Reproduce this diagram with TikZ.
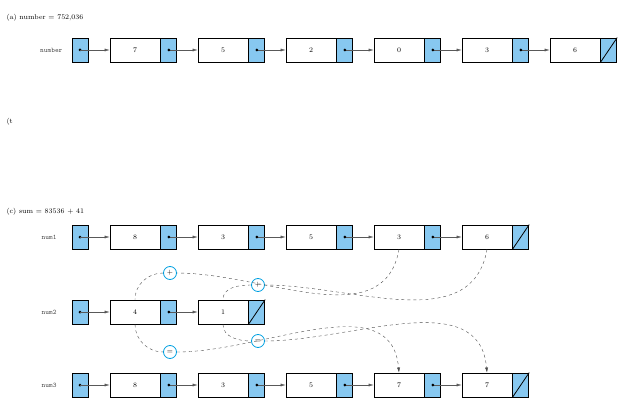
\documentclass[tikz,border=0pt]{standalone}
\usepackage{tikz}
\usetikzlibrary{arrows.meta, positioning}
\definecolor{ptrblue}{RGB}{135,200,240}
\definecolor{opcyan}{RGB}{0,160,225}
\tikzset{
  databox/.style={draw, thick, minimum width=50pt, minimum height=24pt, inner sep=0pt, font=\scriptsize},
  ptrbox/.style={draw, thick, fill=ptrblue, minimum width=16pt, minimum height=24pt, inner sep=0pt},
  link/.style={-{Latex[length=5pt,width=3pt]}, gray!70!black},
  carry/.style={dashed, gray!60!black},
  opcirc/.style={circle, draw=opcyan, thick, fill=white, minimum size=13pt, inner sep=0pt, font=\scriptsize},
  rowlabel/.style={font=\ttfamily\scriptsize, gray!60!black, anchor=east},
  dot/.style={circle, fill=black, inner sep=0pt, minimum size=3pt}
}
\begin{document}
\begin{tikzpicture}[x=1pt, y=-1pt]
    \useasboundingbox (0,0) rectangle (629,417);
    % (a) number = 752,036
    \node[anchor=west, font=\scriptsize] (titlea) at (3,18) {(a) number = 752,036};
    \node[rowlabel] (lblnum) at (66,50) {number};
    \node[ptrbox] (ha) at (80,50) {};
    \node[dot] at (ha) {};
    \foreach \v [count=\i, remember=\i as \j (initially 0)] in {7,5,2,0,3,6} {
        \node[databox] (a\i) at (47+88*\i,50) {\v};
        \node[ptrbox, right=0pt of a\i] (pa\i) {};
        \ifnum\j=0 \draw[link] (ha.center) -- (a\i); \else \draw[link] (pa\j.center) -- (a\i); \fi
    }
    \foreach \i in {1,...,5} \node[dot] at (pa\i) {};
    \draw[thick] (pa6.south west) -- (pa6.north east);

    % (b)
    \node[anchor=west, font=\scriptsize] (titleb) at (3,122) {(t};

    % (c) sum = 83536 + 41
    \node[anchor=west, font=\scriptsize] (titlec) at (3,212) {(c) sum = 83536 + 41};
    \node[rowlabel] (lbl1) at (60,237) {num1};
    \node[rowlabel] (lbl2) at (60,312) {num2};
    \node[rowlabel] (lbl3) at (60,385) {num3};
    \node[ptrbox] (h1) at (80,237) {};
    \node[ptrbox] (h2) at (80,312) {};
    \node[ptrbox] (h3) at (80,385) {};
    \foreach \r in {h1,h2,h3} \node[dot] at (\r) {};

    % num1
    \foreach \v [count=\i, remember=\i as \j (initially 0)] in {8,3,5,3,6} {
        \node[databox] (b\i) at (47+88*\i,237) {\v};
        \node[ptrbox, right=0pt of b\i] (pb\i) {};
        \ifnum\j=0 \draw[link] (h1.center) -- (b\i); \else \draw[link] (pb\j.center) -- (b\i); \fi
    }
    \foreach \i in {1,...,4} \node[dot] at (pb\i) {};
    \draw[thick] (pb5.south west) -- (pb5.north east);

    % num2
    \foreach \v [count=\i, remember=\i as \j (initially 0)] in {4,1} {
        \node[databox] (c\i) at (47+88*\i,312) {\v};
        \node[ptrbox, right=0pt of c\i] (pc\i) {};
        \ifnum\j=0 \draw[link] (h2.center) -- (c\i); \else \draw[link] (pc\j.center) -- (c\i); \fi
    }
    \node[dot] at (pc1) {};
    \draw[thick] (pc2.south west) -- (pc2.north east);

    % num3
    \foreach \v [count=\i, remember=\i as \j (initially 0)] in {8,3,5,7,7} {
        \node[databox] (d\i) at (47+88*\i,385) {\v};
        \node[ptrbox, right=0pt of d\i] (pd\i) {};
        \ifnum\j=0 \draw[link] (h3.center) -- (d\i); \else \draw[link] (pd\j.center) -- (d\i); \fi
    }
    \foreach \i in {1,...,4} \node[dot] at (pd\i) {};
    \draw[thick] (pd5.south west) -- (pd5.north east);

    % addition steps
    \node[opcirc] (plus1) at (170,273) {+};
    \node[opcirc] (plus2) at (258,285) {+};
    \node[opcirc] (eq1) at (170,352) {=};
    \node[opcirc] (eq2) at (258,341) {=};
    \draw[carry] (b4.south) to[out=-100, in=0] (plus1.east);
    \draw[carry] (plus1.west) to[out=180, in=90] (c1.north);
    \draw[carry] (b5.south) to[out=-100, in=0] (plus2.east);
    \draw[carry] (plus2.west) to[out=180, in=90] (c2.north);
    \draw[carry] (c1.south) to[out=-90, in=180] (eq1.west);
    \draw[carry, -{Latex[length=5pt,width=3pt]}] (eq1.east) to[out=0, in=95] (d4.north);
    \draw[carry] (c2.south) to[out=-90, in=180] (eq2.west);
    \draw[carry, -{Latex[length=5pt,width=3pt]}] (eq2.east) to[out=0, in=95] (d5.north);
\end{tikzpicture}
\end{document}
